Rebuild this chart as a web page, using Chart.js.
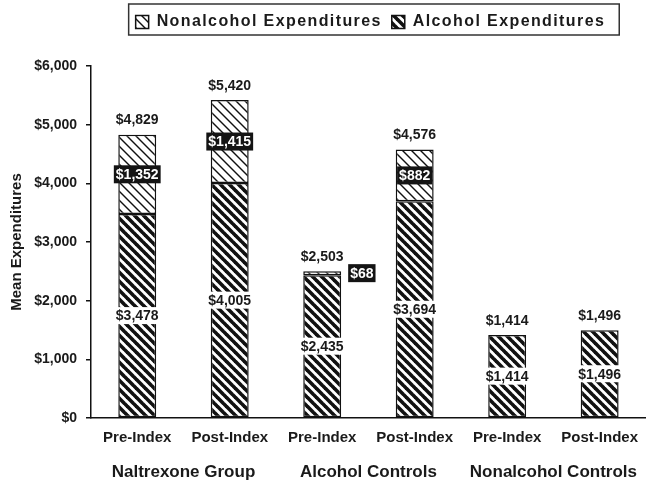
<!DOCTYPE html>
<html><head><meta charset="utf-8">
<script src="https://cdn.jsdelivr.net/npm/chart.js@4.4.1/dist/chart.umd.min.js"></script>
<style>html,body{margin:0;padding:0;background:#fff}#wrap{width:649px;height:485px}</style>
</head><body><div id="wrap"><canvas id="c" width="649" height="485"></canvas></div>
<script>
// ---- data ----
const categories = ['Pre-Index','Post-Index','Pre-Index','Post-Index','Pre-Index','Post-Index'];
const groups = ['Naltrexone Group','Alcohol Controls','Nonalcohol Controls'];
const alcoholValues = [3478, 4005, 2435, 3694, 1414, 1496];
const nonalcoholValues = [1352, 1415, 68, 882, null, null];
const totalValues = [4829, 5420, 2503, 4576, 1414, 1496];
const seriesNames = ['Alcohol Expenditures', 'Nonalcohol Expenditures'];

const FONT = "'Liberation Sans', Arial, Helvetica, sans-serif";
const INK = '#1a1a1a';
const canvas = document.getElementById('c');
const ctx = canvas.getContext('2d');

function hatch(period, lw) {
  const t = document.createElement('canvas');
  t.width = period; t.height = period;
  const g = t.getContext('2d');
  g.fillStyle = '#fff'; g.fillRect(0, 0, period, period);
  g.strokeStyle = '#111'; g.lineWidth = lw;
  for (let k = -1; k <= 1; k++) {
    g.beginPath(); g.moveTo(k * period - 1, -1); g.lineTo(k * period + period + 1, period + 1); g.stroke();
  }
  return ctx.createPattern(t, 'repeat');
}
const darkHatch = hatch(9, 3.6);
const lightHatch = hatch(9, 1.4);

const money = v => '$' + Number(v).toLocaleString('en-US');

const legendTweak = {
  id: 'legendTweak',
  afterInit(chart) {
    const lg = chart.legend;
    const of = lg.fit, od = lg.draw;
    lg.fit = function () { const c = this.ctx; c.save(); c.letterSpacing = '1.4px'; of.apply(this, arguments); c.restore(); this.height += 26; };
    lg.draw = function () { const c = this.ctx; c.save(); c.letterSpacing = '1.4px'; od.apply(this, arguments); c.restore(); };
  },
  afterLayout(chart) {
    const lg = chart.legend, ca = chart.chartArea;
    const off = (ca.left + ca.right) / 2 - (lg.left + lg.right) / 2 + 2;
    lg.left += off; lg.right += off;
  },
  afterDraw(chart) {
    const lg = chart.legend; const c = chart.ctx;
    const pad = lg.options.labels.padding;
    const lw = lg.lineWidths[0];
    const x0 = (lg.left + pad + lg.right - lw) / 2;
    c.save();
    c.strokeStyle = '#333'; c.lineWidth = 1.5;
    c.strokeRect(x0 - 7, 4, lw - pad + 21, 31);
    c.restore();
  }
};

const valueLabels = {
  id: 'valueLabels',
  afterDatasetsDraw(chart) {
    const c = chart.ctx;
    const mA = chart.getDatasetMeta(0), mN = chart.getDatasetMeta(1);
    c.save();
    c.font = 'bold 14px ' + FONT;
    c.textBaseline = 'middle';
    c.textAlign = 'center';
    categories.forEach((cat, i) => {
      const a = mA.data[i];
      // bottom segment label: black on white
      let txt = money(alcoholValues[i]);
      let w = c.measureText(txt).width;
      let yc = (a.y + a.base) / 2;
      c.fillStyle = '#fff'; c.fillRect(a.x - w / 2 - 1, yc - 8.5, w + 2, 17);
      c.fillStyle = INK; c.fillText(txt, a.x, yc + 1);
      let top = a.y;
      if (nonalcoholValues[i] != null) {
        const n = mN.data[i];
        top = Math.min(top, n.y);
        txt = money(nonalcoholValues[i]);
        w = c.measureText(txt).width;
        const h = n.base - n.y;
        let xc = n.x; yc = (n.y + n.base) / 2;
        if (h < 20) { xc = n.x + n.width / 2 + 7 + (w + 4) / 2; }
        c.fillStyle = '#141414'; c.fillRect(xc - w / 2 - 2, yc - 9, w + 4, 18);
        c.fillStyle = '#fff'; c.fillText(txt, xc, yc + 1);
      }
      c.fillStyle = INK;
      c.fillText(money(totalValues[i]), a.x, top - 14);
    });
    c.restore();
  }
};

new Chart(canvas, {
  type: 'bar',
  data: {
    labels: categories,
    datasets: [
      { label: seriesNames[0], data: alcoholValues, backgroundColor: darkHatch, borderColor: '#111', borderWidth: 1.5, borderSkipped: false, xAxisID: 'x', stack: 's' },
      { label: seriesNames[1], data: nonalcoholValues, backgroundColor: lightHatch, borderColor: '#111', borderWidth: 1.5, borderSkipped: false, xAxisID: 'x', stack: 's' }
    ]
  },
  options: {
    responsive: false,
    animation: false,
    devicePixelRatio: 1,
    layout: { padding: { top: 4, right: 0, left: 0, bottom: 0 } },
    datasets: { bar: { barPercentage: 0.41, categoryPercentage: 1 } },
    plugins: {
      legend: {
        display: true, position: 'top', reverse: true,
        labels: { boxWidth: 13, boxHeight: 13, padding: 10, color: INK, font: { family: FONT, size: 16, weight: 'bold' } }
      },
      tooltip: { enabled: false },
      title: { display: false }
    },
    scales: {
      x: {
        type: 'category', stacked: true, position: 'bottom', weight: 0,
        grid: { display: false, drawTicks: false },
        border: { display: true, color: '#111', width: 1.5 },
        ticks: { color: INK, padding: 11, font: { family: FONT, size: 15, weight: 'bold' }, maxRotation: 0 },
        afterFit(s) { s.height = 33; }
      },
      x2: {
        type: 'category', position: 'bottom', weight: 1, labels: groups, offset: true,
        grid: { display: false, drawTicks: false },
        border: { display: false },
        ticks: { color: INK, padding: 11, font: { family: FONT, size: 17, weight: 'bold' }, maxRotation: 0 },
        afterFit(s) { s.height = 34; }
      },
      y: {
        stacked: true, min: 0, max: 6000,
        ticks: { stepSize: 1000, color: INK, padding: 9, font: { family: FONT, size: 14, weight: 'bold' }, callback: v => money(v) },
        grid: { drawOnChartArea: false, drawTicks: true, tickLength: 5, color: '#111', lineWidth: 1.5 },
        border: { display: true, color: '#111', width: 1.5 },
        title: { display: true, text: 'Mean Expenditures', color: INK, font: { family: FONT, size: 15, weight: 'bold' }, padding: { top: 8, bottom: 0 } },
        afterFit(s) { s.width = 91; }
      }
    }
  },
  plugins: [legendTweak, valueLabels]
});
</script>
</body></html>
